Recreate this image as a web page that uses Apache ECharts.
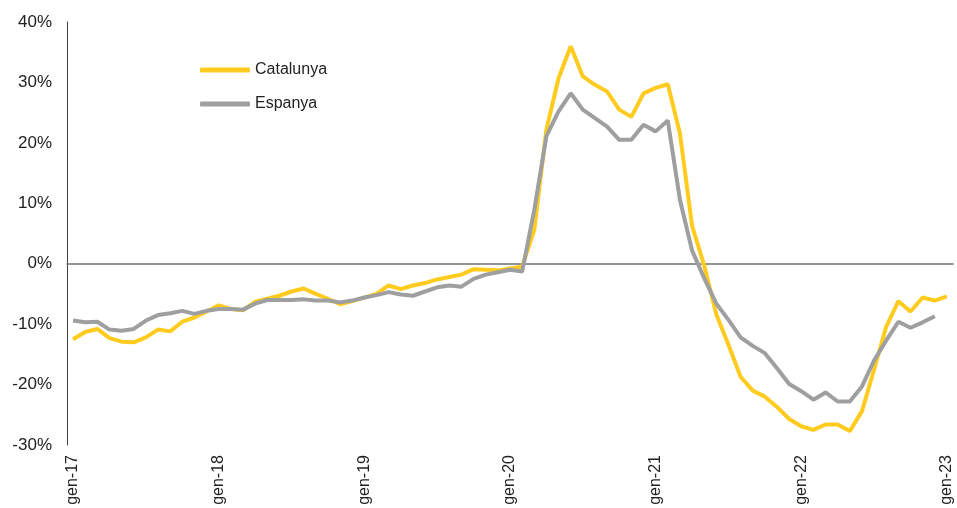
<!DOCTYPE html>
<html>
<head>
<meta charset="utf-8">
<script src="https://cdn.jsdelivr.net/npm/echarts@6/dist/echarts.min.js"></script>
<style>
html,body{margin:0;padding:0;background:#fff;}
#chart{width:957px;height:508px;}
</style>
</head>
<body>
<div id="chart"></div>
<script>
const monthAbbr = ['gen','feb','març','abr','maig','juny','jul','ag','set','oct','nov','des'];
const years = ['17','18','19','20','21','22','23'];
const categories = [];
years.forEach(function (y, yi) {
  monthAbbr.forEach(function (m, mi) {
    if (yi < years.length - 1 || mi === 0) categories.push(m + '-' + y);
  });
});

const catalunya = [
  -12.5, -11.3, -10.8, -12.3, -12.9, -13.0, -12.2, -10.9, -11.2, -9.6, -8.9, -7.9,
  -6.9, -7.5, -7.7, -6.3, -5.8, -5.3, -4.6, -4.1, -5.0, -5.8, -6.7, -6.2,
  -5.6, -5.0, -3.6, -4.2, -3.6, -3.2, -2.6, -2.2, -1.8, -0.9, -1.0, -1.1,
  -0.8, -0.5, 5.6, 22.2, 30.7, 36.0, 31.0, 29.6, 28.5, 25.5, 24.3, 28.2,
  29.1, 29.7, 21.6, 6.3, -0.3, -8.4, -13.4, -18.7, -21.0, -22.0, -23.7, -25.7,
  -26.9, -27.5, -26.6, -26.6, -27.7, -24.4, -17.5, -10.4, -6.2, -7.9, -5.6, -6.1,
  -5.4
];
const espanya = [
  -9.4, -9.7, -9.6, -10.9, -11.1, -10.8, -9.4, -8.5, -8.2, -7.8, -8.3, -7.8,
  -7.5, -7.5, -7.6, -6.6, -6.0, -6.0, -6.0, -5.9, -6.1, -6.1, -6.4, -6.1,
  -5.6, -5.2, -4.7, -5.1, -5.3, -4.6, -3.9, -3.6, -3.8, -2.5, -1.8, -1.4,
  -1.0, -1.3, 8.9, 21.1, 25.2, 28.2, 25.5, 24.1, 22.7, 20.5, 20.5, 23.0,
  21.9, 23.7, 10.6, 2.2, -2.4, -6.6, -9.3, -12.2, -13.6, -14.8, -17.3, -19.9,
  -21.1, -22.5, -21.3, -22.8, -22.8, -20.3, -16.0, -12.7, -9.6, -10.6, -9.7, -8.7
];
const yTicks = { min: -30, max: 40, step: 10 };

const chart = echarts.init(document.getElementById('chart'), null, { renderer: 'canvas' });
const fontFamily = '"Liberation Sans", Arial, sans-serif';
chart.setOption({
  animation: false,
  backgroundColor: '#ffffff',
  grid: { left: 67, right: 4, top: 22, bottom: 63, containLabel: false },
  legend: {
    orient: 'vertical',
    left: 200,
    top: 62,
    padding: 0,
    itemWidth: 50,
    itemHeight: 5,
    itemGap: 18,
    icon: 'roundRect',
    textStyle: { fontFamily: fontFamily, fontSize: 16, color: '#222' },
    data: ['Catalunya', 'Espanya']
  },
  xAxis: [
    {
      type: 'category',
      data: categories,
      boundaryGap: true,
      position: 'bottom',
      axisLine: { show: false, onZero: false },
      axisTick: { show: false },
      splitLine: { show: false },
      axisLabel: {
        interval: 11,
        rotate: 90,
        margin: 10,
        fontFamily: fontFamily,
        fontSize: 16,
        color: '#222'
      }
    },
    {
      type: 'category',
      data: categories,
      boundaryGap: true,
      position: 'bottom',
      axisLine: { show: true, onZero: true, lineStyle: { color: '#707070', width: 1.5 } },
      axisTick: { show: false },
      axisLabel: { show: false },
      splitLine: { show: false }
    }
  ],
  yAxis: {
    type: 'value',
    min: yTicks.min,
    max: yTicks.max,
    interval: yTicks.step,
    axisLine: { show: true, onZero: false, lineStyle: { color: '#404040', width: 1 } },
    axisTick: { show: false },
    splitLine: { show: false },
    axisLabel: {
      formatter: '{value}%',
      margin: 15,
      fontFamily: fontFamily,
      fontSize: 17,
      color: '#222'
    }
  },
  series: [
    {
      name: 'Catalunya',
      type: 'line',
      data: catalunya,
      showSymbol: false,
      symbol: 'none',
      lineStyle: { color: '#FFCB1E', width: 4 },
      itemStyle: { color: '#FFCB1E' },
      z: 3
    },
    {
      name: 'Espanya',
      type: 'line',
      data: espanya,
      showSymbol: false,
      symbol: 'none',
      lineStyle: { color: '#9D9FA0', width: 4 },
      itemStyle: { color: '#9D9FA0' },
      z: 4
    }
  ]
});
</script>
</body>
</html>
